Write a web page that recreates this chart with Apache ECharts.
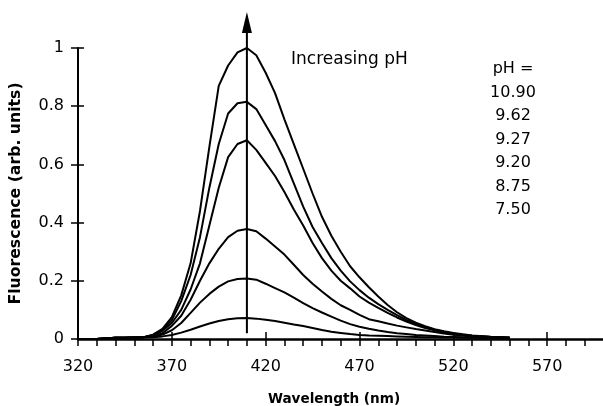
<!DOCTYPE html>
<html>
<head>
<meta charset="utf-8">
<script src="https://cdn.jsdelivr.net/npm/echarts@6/dist/echarts.min.js"></script>
<style>
html,body{margin:0;padding:0;background:#fff;overflow:hidden;width:603px;height:406px;}
#chart{width:641px;height:406px;}
</style>
</head>
<body>
<div id="chart"></div>
<script>
// ---- data ----
var wavelengths = [320,330,340,345,350,355,360,365,370,375,380,385,390,395,400,405,410,415,420,425,430,435,440,445,450,455,460,465,470,475,480,485,490,495,500,505,510,515,520,525,530,540,550];
var pHValues = ['10.90','9.62','9.27','9.20','8.75','7.50'];
var fl_1090 = [0,0,0.004,0.004,0.005,0.006,0.015,0.035,0.075,0.15,0.26,0.44,0.66,0.87,0.94,0.985,1.0,0.975,0.915,0.845,0.755,0.67,0.585,0.5,0.42,0.355,0.3,0.25,0.212,0.178,0.146,0.117,0.092,0.072,0.056,0.044,0.034,0.027,0.021,0.016,0.012,0.008,0.005];
var fl_962 = [0,0,0.004,0.004,0.005,0.006,0.014,0.032,0.065,0.13,0.22,0.35,0.52,0.67,0.775,0.81,0.815,0.79,0.735,0.68,0.615,0.535,0.455,0.385,0.33,0.278,0.235,0.198,0.168,0.142,0.12,0.1,0.082,0.066,0.052,0.041,0.032,0.025,0.019,0.015,0.011,0.007,0.004];
var fl_927 = [0,0,0.004,0.004,0.005,0.006,0.012,0.028,0.055,0.1,0.17,0.26,0.39,0.52,0.625,0.67,0.683,0.65,0.605,0.56,0.505,0.445,0.39,0.33,0.278,0.235,0.2,0.174,0.146,0.125,0.107,0.09,0.074,0.06,0.048,0.038,0.03,0.023,0.018,0.014,0.01,0.007,0.004];
var fl_920 = [0,0,0.004,0.004,0.005,0.006,0.01,0.02,0.045,0.08,0.135,0.2,0.26,0.31,0.35,0.372,0.378,0.37,0.345,0.318,0.29,0.255,0.22,0.19,0.163,0.138,0.116,0.1,0.083,0.068,0.061,0.053,0.046,0.04,0.034,0.029,0.024,0.019,0.015,0.012,0.009,0.006,0.004];
var fl_875 = [0,0,0.004,0.004,0.005,0.006,0.008,0.015,0.03,0.055,0.09,0.125,0.155,0.18,0.198,0.206,0.208,0.204,0.19,0.175,0.16,0.142,0.123,0.106,0.091,0.077,0.063,0.051,0.042,0.035,0.029,0.024,0.02,0.017,0.014,0.012,0.01,0.008,0.007,0.006,0.005,0.004,0.003];
var fl_750 = [0,0,0.004,0.004,0.005,0.006,0.006,0.009,0.014,0.022,0.032,0.043,0.053,0.062,0.068,0.071,0.072,0.07,0.066,0.062,0.056,0.05,0.045,0.038,0.031,0.025,0.021,0.017,0.014,0.012,0.011,0.01,0.009,0.008,0.007,0.006,0.006,0.005,0.005,0.004,0.004,0.003,0.003];
var seriesValues = [fl_1090, fl_962, fl_927, fl_920, fl_875, fl_750];
var arrowWavelength = 410;
var arrowRange = [0.02, 1.088];
var xTitle = 'Wavelength (nm)';
var yTitle = 'Fluorescence (arb. units)';
var annotation = 'Increasing pH';
var legendHeader = 'pH =';

// ---- chart ----
var chart = echarts.init(document.getElementById('chart'), null, {renderer:'canvas'});
var FONT = 'DejaVu Sans';
var series = seriesValues.map(function(vals, i){
  return {
    name: pHValues[i], type:'line', symbol:'none', animation:false,
    lineStyle:{color:'#000', width:2},
    data: wavelengths.map(function(w, j){ return [w, vals[j]]; })
  };
});
series.push({
  name:'arrow', type:'line', clip:false, symbol:'none', animation:false,
  lineStyle:{color:'#000', width:2}, itemStyle:{color:'#000'},
  data:[[arrowWavelength, arrowRange[0]], {value:[arrowWavelength, arrowRange[1]], symbol:'triangle', symbolSize:[10,21]}]
});
var tickStyle = {color:'#000', width:1.5};
chart.setOption({
  animation:false,
  backgroundColor:'#fff',
  grid:{left:78, right:0, top:48, bottom:67, containLabel:false, outerBoundsMode:'none'},
  xAxis:[{
    type:'value', min:320, max:620, interval:50,
    axisLine:{lineStyle:{color:'#000', width:2.5}},
    axisTick:{length:7, lineStyle:tickStyle},
    minorTick:{show:true, splitNumber:5, length:7, lineStyle:tickStyle},
    splitLine:{show:false}, minorSplitLine:{show:false},
    axisLabel:{color:'#000', fontSize:16, fontFamily:FONT, margin:20, showMaxLabel:false},
    name:xTitle, nameLocation:'middle', nameGap:53,
    nameTextStyle:{color:'#000', fontSize:13.6, fontWeight:'bold', fontFamily:FONT, padding:[0,51,0,0]}
  },{
    type:'value', min:320, max:620, interval:50, position:'bottom',
    axisLine:{show:false}, axisTick:{inside:true, length:7, lineStyle:tickStyle},
    axisLabel:{show:false}, splitLine:{show:false}
  }],
  yAxis:[{
    type:'value', min:0, max:1, interval:0.2,
    axisLine:{show:true, lineStyle:{color:'#000', width:2}},
    axisTick:{show:true, length:7, lineStyle:tickStyle},
    splitLine:{show:false},
    axisLabel:{color:'#000', fontSize:16, fontFamily:FONT, margin:14},
    name:yTitle, nameLocation:'middle', nameGap:54,
    nameTextStyle:{color:'#000', fontSize:15.7, fontWeight:'bold', fontFamily:FONT}
  },{
    type:'value', min:0, max:1, interval:0.2, position:'left',
    axisLine:{show:false}, axisTick:{show:true, inside:true, length:6, lineStyle:tickStyle},
    axisLabel:{show:false}, splitLine:{show:false}
  }],
  graphic:[
    {type:'text', left:291, top:51, style:{text:annotation, font:'17px "DejaVu Sans"', fill:'#000'}},
    {type:'text', x:513, y:57.5, style:{text:[legendHeader].concat(pHValues).join('\n'), font:'16px "DejaVu Sans"', fill:'#000', textAlign:'center', textVerticalAlign:'top', lineHeight:23.5}}
  ],
  series:series
});
</script>
</body>
</html>
